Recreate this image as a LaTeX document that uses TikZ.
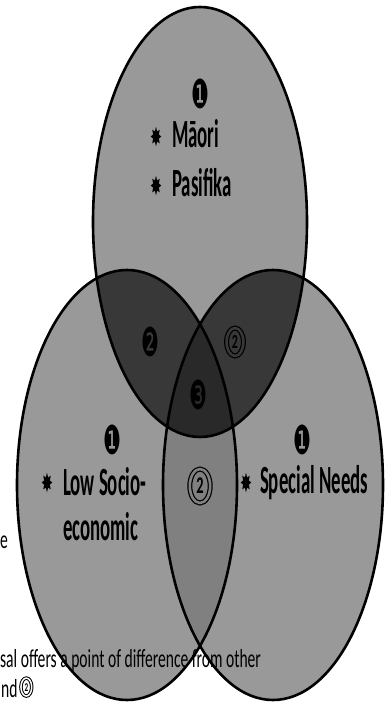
\documentclass[tikz,border=0pt]{standalone}
\usepackage{fontspec}
\setmainfont{Carlito}
\newfontfamily\symfont{DejaVu Sans}
\usepackage{tikz}
\usetikzlibrary{positioning}
\definecolor{onegray}{gray}{0.6}
\definecolor{lowgray}{gray}{0.5}
\definecolor{twogray}{gray}{0.22}
\definecolor{threegray}{gray}{0.16}

\tikzset{
  group/.style={font=\fontsize{40}{44}\selectfont\bfseries, xscale=0.47, inner sep=0pt, anchor=base west},
  star/.style={font=\symfont\fontsize{26}{26}\selectfont, xscale=0.55, inner sep=0pt},
  mark1/.style={font=\symfont\fontsize{40}{40}\selectfont, xscale=0.5, inner sep=0pt},
  ring2/.style={circle, draw, double=#1, double distance=2.6pt, line width=1.2pt, minimum size=34pt,
    inner sep=0pt, xscale=0.6, font=\fontsize{24}{24}\selectfont\bfseries},
  note/.style={font=\fontsize{26}{30}\selectfont, xscale=0.6, inner sep=0pt, anchor=base west},
}

\begin{document}
\begin{tikzpicture}[x=1pt, y=-1pt]
  \useasboundingbox (0,0) rectangle (388,703);
  \def\top{(200,222) ellipse [x radius=107pt, y radius=215pt]}
  \def\lft{(127,485) ellipse [x radius=110pt, y radius=215pt]}
  \def\rgt{(273,485) ellipse [x radius=110pt, y radius=215pt]}
  % single sets
  \fill[onegray] \top; \fill[onegray] \lft; \fill[onegray] \rgt;
  % overlaps
  \begin{scope} \clip \lft; \fill[lowgray] \rgt; \end{scope}
  \begin{scope} \clip \top; \fill[twogray] \lft; \fill[twogray] \rgt;
    \clip \lft; \fill[threegray] \rgt; \end{scope}
  \draw[line width=2.6pt] \top; \draw[line width=2.6pt] \lft; \draw[line width=2.6pt] \rgt;

  % top set
  \node[mark1] (topone) at (200,94) {❶};
  \node[star] (s1) at (156,137) {✸};
  \node[group] (maori) at (172,148) {Māori};
  \node[star] (s2) at (156,186) {✸};
  \node[group] (pasifika) at (172,197) {Pasifika};
  % left set
  \node[mark1] (lftone) at (112,440) {❶};
  \node[star] (s3) at (47,483) {✸};
  \node[group] (low) at (63,495) {Low Socio-};
  \node[group] (econ) at (63,540) {economic};
  % right set
  \node[mark1] (rgtone) at (302,440) {❶};
  \node[star] (s4) at (246,483) {✸};
  \node[group] (special) at (260,493) {Special Needs};
  % overlaps
  \node[mark1] (tl) at (150,342) {❷};
  \node[ring2=twogray, minimum size=28pt, font=\fontsize{20}{20}\selectfont\bfseries] (tr) at (235,342) {2};
  \node[mark1] (mid) at (198,395) {❸};
  \node[ring2=lowgray] (lr) at (200,486) {2};

  % text under the diagram
  \node[note] (e) at (0,548) {e};
  \node[note] (offers) at (0,667) {sal offers a point of difference from other};
  \node[note] (nd) at (1,697) {nd};
  \node[ring2=white, minimum size=18pt, double distance=1.5pt, line width=1pt,
    font=\fontsize{12}{12}\selectfont\bfseries, right=3pt of nd.east, yshift=1pt] (ndring) {2};
\end{tikzpicture}
\end{document}
